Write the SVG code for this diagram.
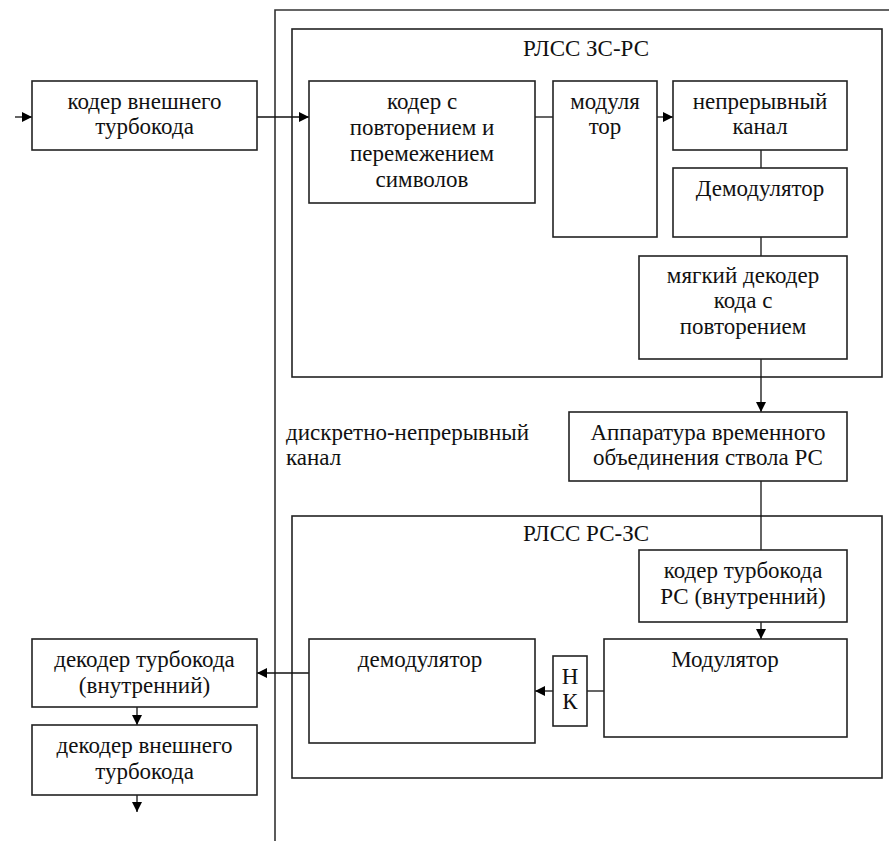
<svg xmlns="http://www.w3.org/2000/svg" width="889" height="841" viewBox="0 0 889 841">
<defs>
<marker id="ar" viewBox="0 0 10 10" refX="10" refY="5" markerWidth="10" markerHeight="10" markerUnits="userSpaceOnUse" orient="auto">
<path d="M0,0 L10,5 L0,10 z" fill="#000"/>
</marker>
<style>
rect{fill:#fff;stroke:#222;stroke-width:1.6}
.frame{fill:none;stroke:#333;stroke-width:1.6}
text{font-size:23px;fill:#111;text-anchor:middle}
.l{text-anchor:start}
#connectors line{stroke:#111;stroke-width:1.3;fill:none}
</style>
</defs>
<rect width="889" height="841" style="fill:#fff;stroke:none"/>
<g font-family="Liberation Serif, Tinos, Times New Roman, Noto Serif, FreeSerif, DejaVu Serif, serif">
<g id="outer">
<path class="frame" d="M275,841 V10 H889"/>
<text class="l" x="286" y="440">дискретно-непрерывный</text>
<text class="l" x="286" y="465">канал</text>
</g>

<g id="rlss-zs-rs">
<rect x="292" y="29" width="590" height="348" style="fill:none"/>
<text x="586" y="56">РЛСС ЗС-РС</text>
</g>

<g id="rlss-rs-zs">
<rect x="292" y="516" width="590" height="262" style="fill:none"/>
<text x="586" y="541">РЛСС РС-ЗС</text>
</g>

<g id="connectors">
<line x1="15" y1="117" x2="32" y2="117" marker-end="url(#ar)"/>
<line x1="257" y1="117" x2="309" y2="117" marker-end="url(#ar)"/>
<line x1="535" y1="117" x2="553" y2="117"/>
<line x1="657" y1="117" x2="673" y2="117" marker-end="url(#ar)"/>
<line x1="761" y1="150" x2="761" y2="168"/>
<line x1="761" y1="237" x2="761" y2="256"/>
<line x1="761" y1="359" x2="761" y2="412" marker-end="url(#ar)"/>
<line x1="761" y1="481" x2="761" y2="550"/>
<line x1="761" y1="622" x2="761" y2="639" marker-end="url(#ar)"/>
<line x1="604" y1="691" x2="587" y2="691"/>
<line x1="553" y1="691" x2="535" y2="691" marker-end="url(#ar)"/>
<line x1="309" y1="673" x2="257" y2="673" marker-end="url(#ar)"/>
<line x1="137" y1="707" x2="137" y2="725" marker-end="url(#ar)"/>
<line x1="137" y1="795" x2="137" y2="812" marker-end="url(#ar)"/>
</g>

<g id="coder-outer">
<rect x="32" y="81" width="225" height="69"/>
<text x="144.5" y="109">кодер внешнего</text>
<text x="144.5" y="134">турбокода</text>
</g>

<g id="coder-repeat">
<rect x="309" y="81" width="226" height="122"/>
<text x="422" y="109">кодер с</text>
<text x="422" y="135">повторением и</text>
<text x="422" y="161">перемежением</text>
<text x="422" y="187">символов</text>
</g>

<g id="modulator-top">
<rect x="553" y="81" width="104" height="156"/>
<text x="605" y="109">модуля</text>
<text x="605" y="134">тор</text>
</g>

<g id="channel">
<rect x="673" y="81" width="174" height="69"/>
<text x="760" y="109">непрерывный</text>
<text x="760" y="134">канал</text>
</g>

<g id="demodulator-top">
<rect x="673" y="168" width="174" height="69"/>
<text x="760" y="196">Демодулятор</text>
</g>

<g id="soft-decoder">
<rect x="639" y="256" width="208" height="103"/>
<text x="743" y="283">мягкий декодер</text>
<text x="743" y="308">кода с</text>
<text x="743" y="334">повторением</text>
</g>

<g id="apparatus">
<rect x="569" y="412" width="278" height="69"/>
<text x="708" y="440">Аппаратура временного</text>
<text x="708" y="465">объединения ствола РС</text>
</g>

<g id="coder-turbo-rs">
<rect x="639" y="550" width="208" height="72"/>
<text x="743" y="578">кодер турбокода</text>
<text x="743" y="604">РС (внутренний)</text>
</g>

<g id="modulator-bottom">
<rect x="604" y="639" width="243" height="98"/>
<text x="725" y="667">Модулятор</text>
</g>

<g id="nk">
<rect x="553" y="656" width="34" height="70"/>
<text x="570" y="684">Н</text>
<text x="570" y="709">К</text>
</g>

<g id="demodulator-bottom">
<rect x="309" y="639" width="226" height="104"/>
<text x="420" y="667">демодулятор</text>
</g>

<g id="decoder-turbo">
<rect x="32" y="639" width="225" height="68"/>
<text x="144.5" y="667">декодер турбокода</text>
<text x="144.5" y="693">(внутренний)</text>
</g>

<g id="decoder-outer">
<rect x="32" y="725" width="225" height="70"/>
<text x="144.5" y="753">декодер внешнего</text>
<text x="144.5" y="779">турбокода</text>
</g>
</g>
</svg>
